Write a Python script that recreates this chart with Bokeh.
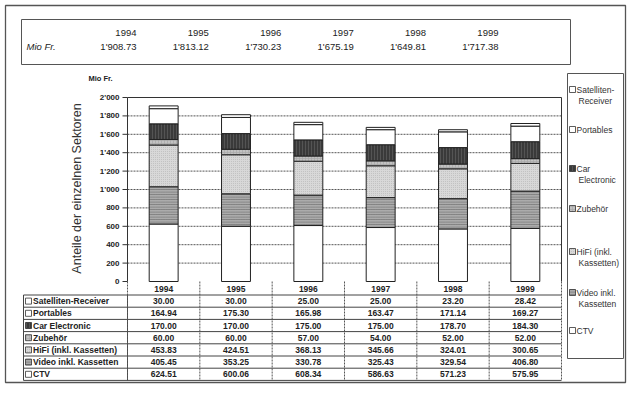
import math
import numpy as np
from bokeh.plotting import figure
from bokeh.models import Range1d, ColumnDataSource
from bokeh.core.properties import value
from bokeh.embed import file_html
from bokeh.resources import INLINE

# ---------------- data ----------------
years = ["1994", "1995", "1996", "1997", "1998", "1999"]
totals = [1908.73, 1813.12, 1730.23, 1675.19, 1649.81, 1717.38]

satelliten = [30.00, 30.00, 25.00, 25.00, 23.20, 28.42]
portables = [164.94, 175.30, 165.98, 163.47, 171.14, 169.27]
car_electronic = [170.00, 170.00, 175.00, 175.00, 178.70, 184.30]
zubehoer = [60.00, 60.00, 57.00, 54.00, 52.00, 52.00]
hifi = [453.83, 424.51, 368.13, 345.66, 324.01, 300.65]
video = [405.45, 353.25, 330.78, 325.43, 329.54, 406.80]
ctv = [624.51, 600.06, 608.34, 586.63, 571.23, 575.95]

series_labels = ["Satelliten-Receiver", "Portables", "Car Electronic", "Zubehör",
                 "HiFi (inkl. Kassetten)", "Video inkl. Kassetten", "CTV"]
legend_lines = [["Satelliten-", "Receiver"], ["Portables"], ["Car", "Electronic"],
                ["Zubehör"], ["HiFi (inkl.", "Kassetten)"], ["Video inkl.", "Kassetten"], ["CTV"]]
y_ticks = [0, 200, 400, 600, 800, 1000, 1200, 1400, 1600, 1800, 2000]
y_unit = "Mio Fr."
y_title = "Anteile der einzelnen Sektoren"

# table order (top -> bottom); stack order is the reverse
table_series = [satelliten, portables, car_electronic, zubehoer, hifi, video, ctv]

# ---------------- styles ----------------
FONT = value("Liberation Sans")
INK = "#222222"
styles = [
    dict(fill_color="white"),                                                     # Satelliten
    dict(fill_color="white"),                                                     # Portables
    dict(fill_color="#3a3a3a", hatch_pattern="vertical_line", hatch_color="#5a5a5a",
         hatch_scale=3, hatch_weight=0.8),                                        # Car
    dict(fill_color="#c2c2c2", hatch_pattern="cross", hatch_color="#a4a4a4",
         hatch_scale=3, hatch_weight=0.6),                                        # Zubehör
    dict(fill_color="#d8d8d8", hatch_pattern="dot", hatch_color="#bcbcbc",
         hatch_scale=2, hatch_weight=0.6),                                        # HiFi
    dict(fill_color="#ababab", hatch_pattern="horizontal_line", hatch_color="#6a6a6a",
         hatch_scale=2.5, hatch_weight=0.7),                                      # Video
    dict(fill_color="white"),                                                     # CTV
]

# ---------------- layout (canvas pixels) ----------------
W, H = 627, 384
XL, XR = 0, W
YT, YB = 0, H
PX0, PX1 = 127, 561        # plot area x
PY0, PY1 = 281, 97         # value 0 / 2000 pixel rows
VMAX = 2000.0
k = (PY0 - PY1) / VMAX
ncat = len(years)
cw = (PX1 - PX0) / ncat

p = figure(width=W, height=H, output_backend="svg", toolbar_location=None,
           x_range=Range1d(XL, XR), y_range=Range1d(YB, YT),
           x_axis_location=None, y_axis_location=None, min_border=0)
p.min_border_left = p.min_border_right = p.min_border_top = p.min_border_bottom = 0
p.xgrid.visible = False
p.ygrid.visible = False
p.outline_line_color = None
p.background_fill_color = "white"
p.border_fill_color = "white"

p.extra_y_ranges = {"val": Range1d(start=(PY0 - YB) / k, end=(PY0 - YT) / k)}
p.extra_x_ranges = {"cat": Range1d(start=(XL - PX0) / cw - 0.5, end=(XR - PX0) / cw - 0.5)}

idx = list(range(ncat))

# outer frame
p.quad(left=5, right=625, top=5, bottom=382, fill_color=None, line_color="#555555", line_width=1.3)

# ---------------- header box ----------------
p.quad(left=21, right=570, top=19, bottom=64, fill_color=None, line_color="#555555", line_width=1)
hx = [136 + i * 72.4 for i in idx]
p.text(x=hx, y=[32] * ncat, text=years, text_align="right", text_baseline="middle",
       text_font=FONT, text_font_size="9.5px", text_color=INK)
p.text(x=hx, y=[46] * ncat,
       text=[f"{t:,.2f}".replace(",", "'") for t in totals],
       text_align="right", text_baseline="middle", text_font=FONT,
       text_font_size="9.5px", text_color=INK)
p.text(x=[26], y=[46], text=[y_unit], text_align="left", text_baseline="middle",
       text_font=FONT, text_font_size="9.5px", text_font_style="italic", text_color=INK)

# ---------------- chart ----------------
grid_src = ColumnDataSource(dict(y=y_ticks[1:-1]))
p.segment(x0=-0.5, x1=ncat - 0.5, y0="y", y1="y", source=grid_src,
          x_range_name="cat", y_range_name="val", line_color="#555555",
          line_width=1, line_dash="2 1")
# plot frame
p.segment(x0=[-0.5, -0.5, ncat - 0.5], x1=[ncat - 0.5, -0.5, ncat - 0.5],
          y0=[VMAX, 0, 0], y1=[VMAX, VMAX, VMAX],
          x_range_name="cat", y_range_name="val", line_color="#333333", line_width=1)

bottom = np.zeros(ncat)
for vals, st in zip(reversed(table_series), list(reversed(styles))):
    top = bottom + np.array(vals)
    p.vbar(x=idx, bottom=bottom, top=top, width=0.4, x_range_name="cat",
           y_range_name="val", line_color="#222222", line_width=1, **st)
    bottom = top

# y ticks and labels
tick_src = ColumnDataSource(dict(y=y_ticks,
                                 t=[f"{v:,}".replace(",", "'") for v in y_ticks]))
p.segment(x0=PX0 - 5, x1=PX0, y0="y", y1="y", source=tick_src,
          y_range_name="val", line_color="#333333", line_width=1)
p.text(x=PX0 - 8, y="y", text="t", source=tick_src, y_range_name="val",
       text_align="right", text_baseline="middle", text_font=FONT,
       text_font_size="8px", text_font_style="bold", text_color=INK)
p.text(x=[100], y=[78], text=[y_unit], text_align="center", text_baseline="middle",
       text_font=FONT, text_font_size="7.5px", text_font_style="bold", text_color=INK)
p.text(x=[76], y=[188], text=[y_title], angle=math.pi / 2, text_align="center",
       text_baseline="middle", text_font=FONT, text_font_size="12.5px", text_color="#333333")

# ---------------- data table ----------------
ROW_TOP, ROW_H = 294.5, 12.2
nrow = len(table_series)
row_bounds = [ROW_TOP + r * ROW_H for r in range(nrow + 1)]
row_mid = [ROW_TOP + (r + 0.5) * ROW_H for r in range(nrow)]
TL = 23
p.segment(x0=[TL] * len(row_bounds), x1=[PX1] * len(row_bounds), y0=row_bounds, y1=row_bounds,
          line_color="#444444", line_width=1)
p.segment(x0=[TL, PX0], x1=[TL, PX0], y0=[ROW_TOP] * 2, y1=[row_bounds[-1]] * 2,
          line_color="#444444", line_width=1)
p.segment(x0=[i - 0.5 for i in range(ncat + 1)], x1=[i - 0.5 for i in range(ncat + 1)],
          y0=[PY0] * (ncat + 1), y1=[row_bounds[-1]] * (ncat + 1),
          x_range_name="cat", line_color="#555555", line_width=1, line_dash="2 1")
p.text(x=idx, y=[288] * ncat, text=years, x_range_name="cat", text_align="center",
       text_baseline="middle", text_font=FONT, text_font_size="8.5px",
       text_font_style="bold", text_color=INK)
for r, (vals, lab, st) in enumerate(zip(table_series, series_labels, styles)):
    ym = row_mid[r]
    p.rect(x=[TL + 5], y=[ym], width=6, height=6, line_color="#333333", line_width=0.8, **st)
    p.text(x=[TL + 9.5], y=[ym], text=[lab], text_align="left", text_baseline="middle",
           text_font=FONT, text_font_size="8.5px", text_font_style="bold", text_color=INK)
    p.text(x=idx, y=[ym] * ncat, text=[f"{v:.2f}" for v in vals], x_range_name="cat",
           text_align="center", text_baseline="middle", text_font=FONT,
           text_font_size="8.5px", text_font_style="bold", text_color=INK)

# ---------------- legend ----------------
p.quad(left=567, right=623, top=73, bottom=358, fill_color=None, line_color="#555555", line_width=1)
leg_y = [89, 129, 168, 208, 251, 292, 330]
for lines, st, ly in zip(legend_lines, styles, leg_y):
    p.rect(x=[572], y=[ly], width=6, height=6, line_color="#333333", line_width=0.8, **st)
    p.text(x=[576], y=[ly], text=[lines[0]], text_align="left", text_baseline="middle",
           text_font=FONT, text_font_size="8.5px", text_color="#333333")
    if len(lines) > 1:
        p.text(x=[578], y=[ly + 11.5], text=[lines[1]], text_align="left", text_baseline="middle",
               text_font=FONT, text_font_size="8.5px", text_color="#333333")

open("out.html", "w").write(file_html(p, INLINE))
